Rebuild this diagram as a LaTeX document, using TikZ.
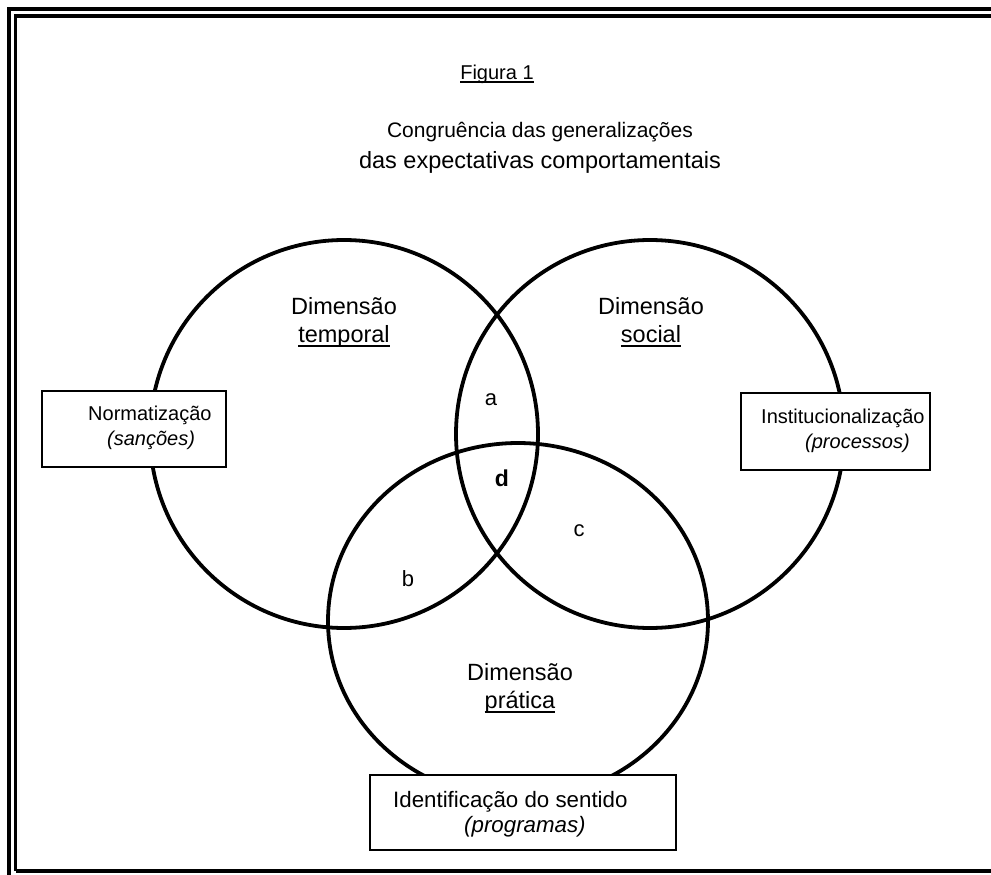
\documentclass[tikz,border=0pt]{standalone}
\usepackage{fontspec}
\setmainfont{Liberation Sans}
\newcommand{\ulx}[2][0.22em]{\leavevmode\setbox0\hbox{#2}\rlap{\rule[-#1]{\wd0}{0.075em}}\box0}
\begin{document}
\begin{tikzpicture}[x=1pt,y=-1pt]
\tikzset{
  ring/.style={line width=3.8pt},
  frameline/.style={line width=3.2pt},
  labelbox/.style={draw, line width=1.5pt, fill=white, inner sep=0pt},
  boxtext/.style={anchor=base west, inner sep=0pt, font=\fontsize{20}{22}\selectfont},
  bigboxtext/.style={anchor=base west, inner sep=0pt, font=\fontsize{22.3}{24}\selectfont},
  dimtext/.style={anchor=base, inner sep=0pt, font=\fontsize{23.5}{25}\selectfont},
  regiontext/.style={anchor=base, inner sep=0pt, font=\fontsize{22}{24}\selectfont},
}
\useasboundingbox (0,0) rectangle (991,875);
% frame
\draw[frameline, line width=3.6pt] (8.8,875) -- (8.8,9) -- (991,9);
\draw[frameline] (15.5,871) -- (15.5,16) -- (991,16);
\draw[frameline] (15.5,871) -- (991,871);
% circles
\draw[ring] (344,434) circle[radius=194];
\draw[ring] (650,434) circle[radius=194];
\draw[ring] (518,621) ellipse[x radius=190, y radius=178];
% titles
\node[anchor=base, inner sep=0pt, font=\fontsize{20}{21}\selectfont] (fig) at (497,80) {\ulx[0.14em]{Figura 1}};
\node[anchor=base, inner sep=0pt, font=\fontsize{21}{23}\selectfont] (t1) at (540,137) {Congruência das generalizações};
\node[anchor=base, inner sep=0pt, font=\fontsize{23.5}{25}\selectfont] (t2) at (540,168) {das expectativas comportamentais};
% dimension labels
\node[dimtext] (d1a) at (344,314) {Dimensão};
\node[dimtext] (d1b) at (344,342) {\ulx{temporal}};
\node[dimtext] (d2a) at (651,314) {Dimensão};
\node[dimtext] (d2b) at (651,342) {\ulx{social}};
\node[dimtext] (d3a) at (520,680) {Dimensão};
\node[dimtext] (d3b) at (520,708) {\ulx{prática}};
% regions
\node[regiontext] (ra) at (491,405) {a};
\node[regiontext, font=\fontsize{23}{24}\selectfont\bfseries] (rd) at (502,486) {d};
\node[regiontext] (rc) at (579,536) {c};
\node[regiontext] (rb) at (408,586) {b};
% boxes
\node[labelbox, minimum width=184pt, minimum height=76pt] (bn) at (134,429) {};
\node[boxtext] (bn1) at (88,420) {Normatização};
\node[boxtext] (bn2) at (107,445) {\itshape (sanções)};
\node[labelbox, minimum width=189pt, minimum height=77pt] (bi) at (835.5,431.5) {};
\node[boxtext] (bi1) at (761,423) {Institucionalização};
\node[boxtext] (bi2) at (805,448) {\itshape (processos)};
\node[labelbox, minimum width=306pt, minimum height=75pt] (bs) at (523,812.5) {};
\node[bigboxtext] (bs1) at (393,807) {Identificação do sentido};
\node[bigboxtext] (bs2) at (464,832) {\itshape (programas)};
\end{tikzpicture}
\end{document}
